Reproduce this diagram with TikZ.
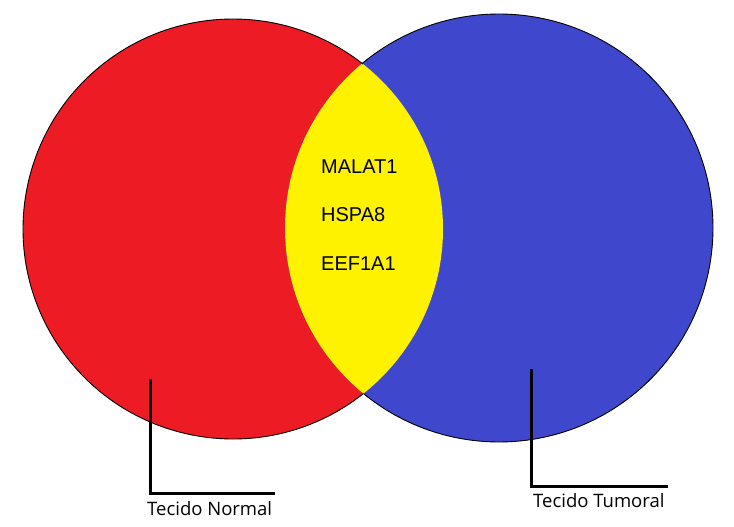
\documentclass[tikz,border=0pt]{standalone}
\usepackage{fontspec}
\setmainfont{Liberation Sans}
\newfontfamily\tagfont{Open Sans}
\usepackage{xcolor}
\usetikzlibrary{positioning}
\definecolor{setred}{HTML}{ED1C24}
\definecolor{setblue}{HTML}{3F48CC}
\definecolor{setyellow}{HTML}{FFF200}
\tikzset{
  normalset/.style={fill=setred},
  tumorset/.style={fill=setblue},
  sharedset/.style={fill=setyellow},
  rim/.style={draw=black, line width=0.9pt},
  gene/.style={font=\fontsize{20}{24}\selectfont, text=black!90!blue, inner sep=0pt, anchor=base west},
  tag/.style={font=\tagfont\fontsize{18.5}{22}\selectfont, inner sep=0pt, anchor=base west},
  leader/.style={draw=black, line width=3pt},
}

\begin{document}
\begin{tikzpicture}[x=1pt, y=-1pt]
  \useasboundingbox (0,0) rectangle (734,527);
  \coordinate (nc) at (233,229);
  \coordinate (tc) at (499,228);
  % the two sets and their overlap
  \fill[normalset] (nc) circle[radius=210];
  \fill[tumorset] (tc) circle[radius=214];
  \begin{scope}
    \clip (nc) circle[radius=210];
    \fill[sharedset] (tc) circle[radius=214];
  \end{scope}
  \draw[rim] ([shift={(51.8:210)}]nc) arc[start angle=51.8, end angle=308.2, radius=210];
  \draw[rim] ([shift={(-129.7:214)}]tc) arc[start angle=-129.7, end angle=129.3, radius=214];
  % shared genes
  \node[gene] (malat) at (321,173) {MALAT1};
  \node[gene] (hspa) at ([yshift=-48.5pt]malat.base west) {HSPA8};
  \node[gene] (eef) at ([yshift=-48.5pt]hspa.base west) {EEF1A1};
  % set labels
  \coordinate (ntip) at (150,379);
  \coordinate (nend) at (275,493);
  \draw[leader] (ntip) |- (nend);
  \node[tag] (nlabel) at (147,515) {Tecido Normal};
  \coordinate (ttip) at (531,369);
  \coordinate (tend) at (668,486);
  \draw[leader] (ttip) |- (tend);
  \node[tag] (tlabel) at (533,507) {Tecido Tumoral};
\end{tikzpicture}
\end{document}
